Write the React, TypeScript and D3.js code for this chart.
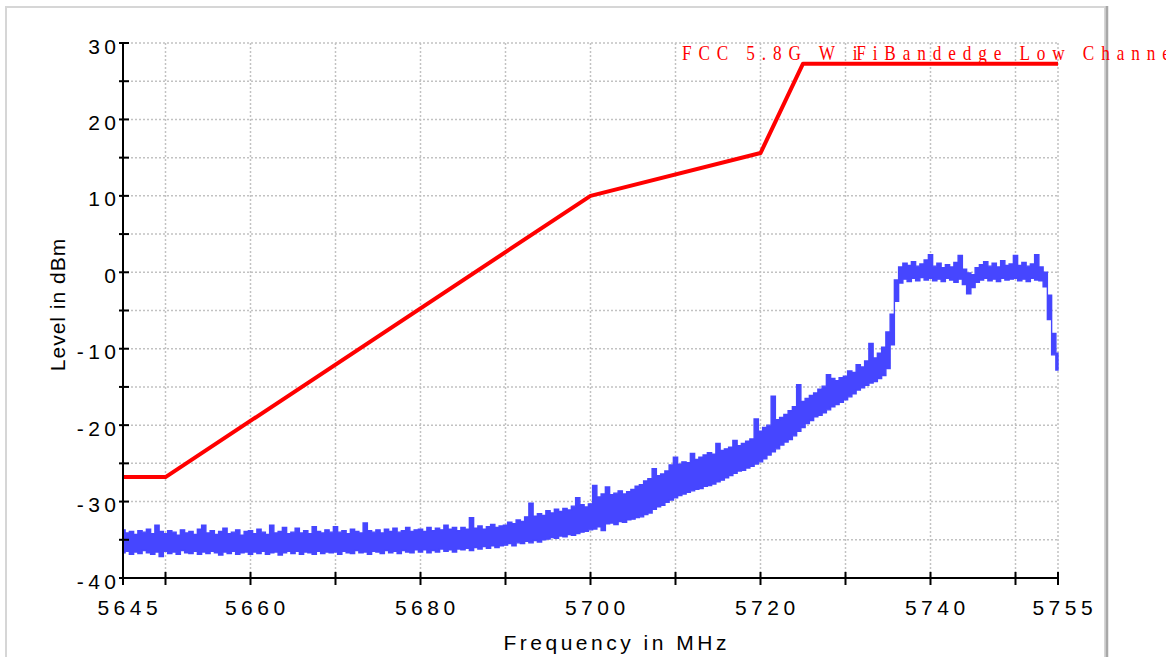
import React from "react";
import * as d3 from "d3";

// Sweep settings of the spectrum trace (MHz)
const TRACE_START = 5645;
const TRACE_STEP = 0.5;

// Upper edge of the measured trace band (dBm), one value per 0.5 MHz bin
const traceHigh = [
  -33.7, -34.1, -33.9, -34.3, -33.8, -34.0, -33.6, -34.2, -33.1, -33.9,
  -34.2, -33.8, -34.0, -34.4, -33.7, -34.1, -33.9, -34.3, -33.6, -33.1,
  -34.1, -33.8, -34.3, -33.9, -33.5, -34.2, -34.0, -33.7, -34.4, -33.9,
  -33.8, -34.2, -33.6, -34.0, -34.3, -33.1, -34.1, -33.9, -33.4, -34.2,
  -34.0, -33.5, -34.1, -33.8, -34.2, -33.3, -33.9, -34.1, -33.7, -34.0,
  -33.3, -34.0, -33.8, -34.2, -33.6, -33.9, -34.1, -32.8, -33.8, -34.0,
  -33.7, -34.1, -33.6, -33.9, -33.5, -34.0, -33.8, -33.4, -33.9, -33.7,
  -33.6, -33.9, -33.4, -33.8, -33.5, -33.7, -33.1, -33.6, -33.4, -33.8,
  -33.4, -33.6, -32.1, -33.5, -33.2, -33.6, -33.3, -33.0, -33.4, -33.2,
  -33.1, -32.7, -32.9, -32.4, -32.6, -32.0, -30.2, -31.9, -31.6, -31.8,
  -31.2, -31.5, -31.0, -31.3, -30.9, -31.1, -30.6, -29.5, -30.4, -30.7,
  -30.3, -27.9, -29.4, -29.0, -28.1, -29.1, -28.9, -28.6, -29.0, -28.7,
  -28.4, -28.0, -27.8, -27.3, -27.0, -25.7, -26.6, -26.4, -26.0, -25.2,
  -24.2, -25.1, -24.8, -24.9, -23.7, -24.5, -24.2, -23.9, -23.6, -23.8,
  -22.4, -23.3, -23.1, -22.9, -22.0, -22.7, -22.4, -22.1, -21.8, -19.2,
  -20.8, -20.3, -20.0, -16.2, -19.3, -19.0, -18.6, -18.1, -17.6, -14.7,
  -16.9, -16.5, -16.1, -15.8, -15.3, -14.9, -13.4, -13.9, -14.2, -13.8,
  -13.6, -12.9, -13.1, -12.1, -12.4, -11.6, -9.3, -11.2, -10.6, -9.8,
  -7.8, -5.5, -1.0, 0.7, 1.2, 0.9, 1.4, 0.8, 1.1, 1.6,
  2.3, 0.8, 1.2, 0.6, 1.0, 0.7, 1.3, 2.2, 0.4, -0.1,
  -0.3, 0.6, 1.0, 1.4, 0.8, 1.2, 0.7, 1.5, 0.9, 1.1,
  2.2, 0.9, 1.3, 0.8, 1.1, 2.3, 0.7, 0.0, -3.0, -8.0, -10.6,
];

// Lower edge of the measured trace band (dBm)
const traceLow = [
  -36.7, -36.5, -36.9, -36.6, -36.8, -36.4, -36.7, -36.9, -36.6, -37.2,
  -36.5, -36.8, -36.6, -36.9, -36.4, -36.7, -36.8, -36.5, -36.9, -36.6,
  -36.8, -36.5, -36.7, -37.0, -36.6, -36.8, -36.5, -36.9, -36.7, -36.6,
  -36.9, -36.6, -36.8, -36.5, -36.9, -36.7, -36.6, -37.0, -36.7, -36.5,
  -36.8, -36.5, -36.9, -36.6, -36.7, -36.9, -36.5, -36.8, -36.6, -36.7,
  -36.6, -36.9, -36.5, -36.7, -36.8, -36.4, -36.7, -36.6, -36.9, -36.5,
  -36.6, -36.8, -36.4, -36.7, -36.5, -36.8, -36.4, -36.6, -36.7, -36.3,
  -36.6, -36.3, -36.7, -36.4, -36.6, -36.2, -36.5, -36.3, -36.6, -36.2,
  -36.3, -36.1, -36.4, -36.0, -36.2, -35.9, -36.1, -35.8, -36.0, -35.8,
  -35.7, -35.5, -35.8, -35.4, -35.5, -35.2, -35.4, -35.1, -35.3, -35.0,
  -34.9, -34.7, -34.8, -34.5, -34.6, -34.3, -34.4, -34.2, -34.0, -33.9,
  -33.7, -33.6, -33.3, -33.8, -32.9, -32.8, -33.0, -32.6, -32.7, -32.4,
  -32.3, -32.1, -32.0, -31.7, -31.5, -31.0, -30.7, -30.5, -30.1, -29.8,
  -29.5, -29.2, -29.0, -28.8, -28.6, -28.4, -28.3, -28.0, -27.9, -27.7,
  -27.4, -27.2, -26.9, -26.6, -26.3, -26.0, -25.9, -25.6, -25.4, -25.1,
  -24.8, -24.4, -23.9, -23.5, -23.1, -22.6, -22.2, -21.9, -21.4, -20.8,
  -20.3, -19.8, -19.4, -18.9, -18.7, -18.4, -18.0, -17.6, -17.3, -17.0,
  -16.7, -16.3, -15.9, -15.4, -15.1, -14.8, -14.5, -14.3, -13.9, -13.5,
  -12.6, -9.5, -3.8, -1.4, -0.9, -1.2, -0.8, -1.1, -0.7, -1.0,
  -0.8, -1.1, -0.9, -1.2, -0.8, -1.0, -1.3, -0.9, -1.6, -2.8,
  -2.0, -1.3, -1.0, -0.8, -1.1, -0.9, -1.2, -0.8, -1.0, -0.9,
  -0.8, -1.1, -0.9, -1.2, -0.8, -1.0, -1.1, -1.9, -6.2, -10.8, -12.8,
];

// FCC 5.8 GHz band-edge limit line
const limitFreq = [5645, 5650, 5700, 5720, 5725, 5755];
const limitLevel = [-26.8, -26.8, 10, 15.6, 27.3, 27.3];

// Axis ticks
const xTicks = [5645, 5650, 5660, 5670, 5680, 5690, 5700, 5710, 5720, 5730, 5740, 5750, 5755];
const xTickLabels = [5645, 5660, 5680, 5700, 5720, 5740, 5755];
const yTicks = [-40, -35, -30, -25, -20, -15, -10, -5, 0, 5, 10, 15, 20, 25, 30];
const yTickLabels = [-40, -30, -20, -10, 0, 10, 20, 30];

const limitTitle = "FCC 5.8G W ";
const limitTitleTail = "FiBandedge Low Channel";

const SANS = "'Liberation Sans', Arial, sans-serif";
const SERIF = "'Liberation Serif', 'Times New Roman', serif";

type Bin = { f: number; hi: number; lo: number };

export default function App() {
  const x = d3.scaleLinear().domain([5645, 5755]).range([123, 1058]);
  const y = d3.scaleLinear().domain([-40, 30]).range([578, 43]);

  const bins: Bin[] = traceHigh.map((hi, i) => ({
    f: TRACE_START + i * TRACE_STEP,
    hi,
    lo: traceLow[i],
  }));

  // Peak/trough envelope of each analyzer bin, filled as a stepped band
  const tracePath = d3
    .area<Bin>()
    .x((d) => x(d.f))
    .y0((d) => y(d.lo))
    .y1((d) => y(d.hi))
    .curve(d3.curveStep)(bins) as string;

  const limitPath = d3
    .line<number>()
    .x((_, i) => x(limitFreq[i]))
    .y((d) => y(d))(limitLevel) as string;

  const [x0, x1] = x.range();
  const [yBottom, yTop] = y.range();

  return (
    <div style={{ position: "fixed", left: 0, top: 0, width: 1172, height: 657, background: "#fff" }}>
      <svg width={1166} height={657} style={{ display: "block" }}>
        {/* outer frame */}
        <rect x={6} y={7} width={1099} height={700} fill="#fff" stroke="#d6d6d6" strokeWidth={2} />
        <line x1={1107} x2={1107} y1={6} y2={657} stroke="#a8a8a8" strokeWidth={2.5} />

        {/* grid */}
        <g stroke="#c2c2c2" strokeWidth={1.5} strokeDasharray="2,2">
          {xTicks.slice(1).map((t) => (
            <line key={"gx" + t} x1={x(t)} x2={x(t)} y1={yTop} y2={yBottom} />
          ))}
          {yTicks.slice(1).map((t) => (
            <line key={"gy" + t} x1={x0} x2={x1} y1={y(t)} y2={y(t)} />
          ))}
        </g>

        {/* measured trace */}
        <path d={tracePath} fill="#4646ff" stroke="#4646ff" strokeWidth={1.4} strokeLinejoin="miter" />

        {/* limit line */}
        <path d={limitPath} fill="none" stroke="#ff0000" strokeWidth={4} strokeLinejoin="round" />

        {/* axes */}
        <g stroke="#000" strokeWidth={2}>
          <line x1={x0} x2={x1} y1={yBottom} y2={yBottom} />
          <line x1={x0} x2={x0} y1={yTop} y2={yBottom} />
          {xTicks.map((t) => (
            <line key={"tx" + t} x1={x(t)} x2={x(t)} y1={yBottom - 6} y2={yBottom + 7} />
          ))}
          {yTicks.map((t) => (
            <line key={"ty" + t} x1={x0 - 4} x2={x0 + 6} y1={y(t)} y2={y(t)} />
          ))}
        </g>

        <g fontFamily={SANS} fontSize={21} fill="#000" letterSpacing={4.5}>
          {xTickLabels.map((t) => (
            <text key={"lx" + t} x={x(t) + 6.8} y={yBottom + 37} textAnchor="middle">
              {t}
            </text>
          ))}
          {yTickLabels.map((t) => (
            <text key={"ly" + t} x={x0 - 2.5} y={y(t) + 10.5} textAnchor="end">
              {t}
            </text>
          ))}
        </g>

        <text x={616.7} y={650} textAnchor="middle" fontFamily={SANS} fontSize={21} letterSpacing={3.5}>
          Frequency in MHz
        </text>
        <text
          transform="translate(65,304.5) rotate(-90)"
          textAnchor="middle"
          fontFamily={SANS}
          fontSize={21}
          letterSpacing={1}
        >
          Level in dBm
        </text>

        {/* limit line caption */}
        <g transform="translate(682,60) scale(0.82,1)">
          <text x={0} y={0} fontFamily={SERIF} fontSize={21} letterSpacing={8.4} fill="#ff0000">
            {limitTitle}
            <tspan>i</tspan>
            <tspan dx={-10}>{limitTitleTail}</tspan>
          </text>
        </g>
      </svg>
    </div>
  );
}
